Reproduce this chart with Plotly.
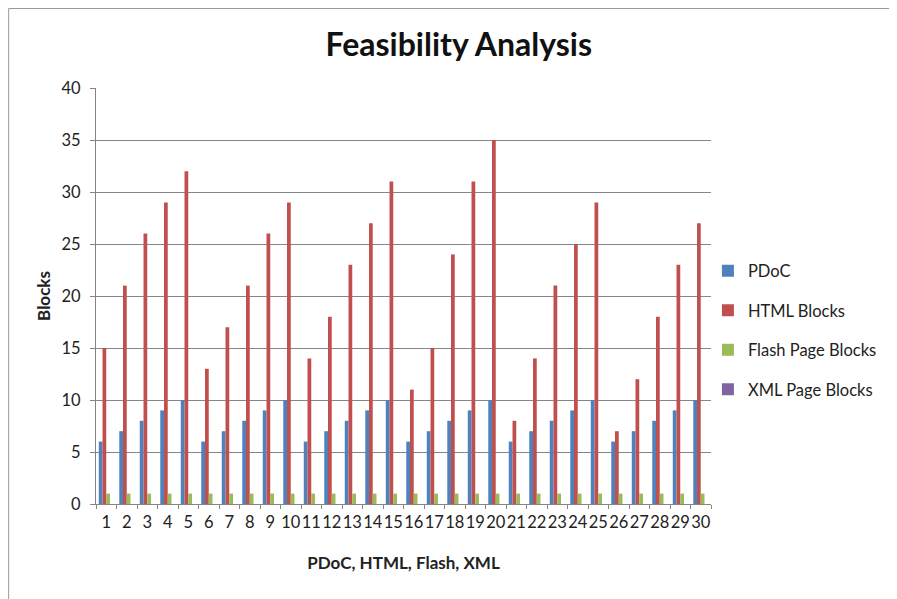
import plotly.graph_objects as go

categories = [str(i) for i in range(1, 31)]
pdoc = [6, 7, 8, 9, 10] * 6
html_blocks = [15, 21, 26, 29, 32, 13, 17, 21, 26, 29,
               14, 18, 23, 27, 31, 11, 15, 24, 31, 35,
               8, 14, 21, 25, 29, 7, 12, 18, 23, 27]
flash_blocks = [1] * 30
xml_blocks = [0] * 30
yticks = [0, 5, 10, 15, 20, 25, 30, 35, 40]

FONT = "Lato, 'Open Sans', sans-serif"
series = [
    ("PDoC", pdoc, "#4F81BD"),
    ("HTML Blocks", html_blocks, "#C0504D"),
    ("Flash Page Blocks", flash_blocks, "#9BBB59"),
    ("XML Page Blocks", xml_blocks, "#8064A2"),
]

fig = go.Figure()
for name, vals, col in series:
    fig.add_trace(go.Bar(x=categories, y=vals, name=name, marker_color=col,
                         marker_line_width=0, legendgroup=name))

fig.update_layout(
    width=889, height=591,
    paper_bgcolor="white", plot_bgcolor="white",
    margin=dict(l=88, r=186, t=80, b=95, autoexpand=False),
    barmode="group", bargap=0.27, bargroupgap=0,
    font=dict(family=FONT, size=16, color="#222"),
    title=dict(text="<b>Feasibility Analysis</b>", x=0.507, xanchor="center",
               xref="container", yref="container",
               y=0.937, yanchor="middle", font=dict(size=32, color="#111", family=FONT)),
    legend=dict(x=0.995, xanchor="left", y=0.418, yanchor="middle",
                font=dict(size=16.5, color="#222"), tracegroupgap=15,
                bgcolor="rgba(0,0,0,0)"),
    showlegend=True,
)
fig.update_xaxes(
    type="category", showline=True, linecolor="#868686", linewidth=1,
    ticks="outside", tickson="boundaries", ticklen=4, tickcolor="#868686",
    showgrid=False, tickangle=0, automargin=False, ticklabelstandoff=3,
    tickfont=dict(size=16.5, color="#222"),
    title=dict(text="<b>PDoC, HTML, Flash, XML</b>", font=dict(size=17, color="#222"), standoff=26),
)
fig.update_yaxes(
    range=[0, 40], tickvals=yticks, showline=True, linecolor="#868686", linewidth=1,
    ticks="outside", ticklen=5, tickcolor="#868686", automargin=False,
    ticklabelstandoff=6,
    showgrid=True, gridcolor="#868686", gridwidth=1, zeroline=False,
    tickfont=dict(size=16.5, color="#222"),
    title=dict(text="<b>Blocks</b>", font=dict(size=17, color="#222"), standoff=6),
)
# chart frame
fig.add_shape(type="line", xref="paper", yref="paper", x0=-0.142, x1=1.5, y0=1.191, y1=1.191,
              line=dict(color="#999", width=1))
fig.add_shape(type="line", xref="paper", yref="paper", x0=-0.142, x1=-0.142, y0=-0.3, y1=1.191,
              line=dict(color="#999", width=1))

fig.write_html("out.html")
